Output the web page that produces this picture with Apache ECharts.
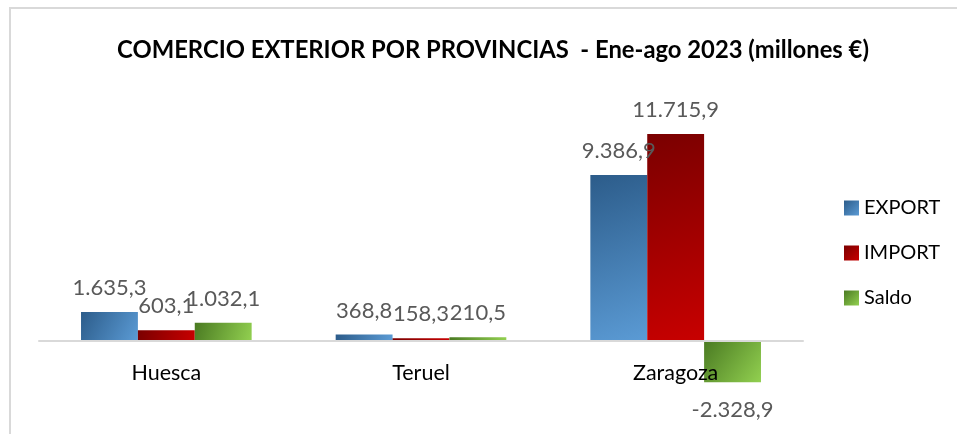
<!DOCTYPE html>
<html><head><meta charset="utf-8">
<script src="https://cdn.jsdelivr.net/npm/echarts@6/dist/echarts.min.js"></script>
<style>html,body{margin:0;padding:0;background:#fff}#c{width:957px;height:434px}</style>
</head><body><div id="c"></div>
<script>
const categories = ['Huesca', 'Teruel', 'Zaragoza'];
const exportValues = [1635.3, 368.8, 9386.9];
const importValues = [603.1, 158.3, 11715.9];
const saldoValues = [1032.1, 210.5, -2328.9];
const seriesNames = ['EXPORT', 'IMPORT', 'Saldo'];

const font = 'Lato, Calibri, Carlito, sans-serif';
function fmt(v) {
  const neg = v < 0; v = Math.abs(v);
  let s = v.toFixed(1).split('.');
  let int = s[0].replace(/\B(?=(\d{3})+(?!\d))/g, '.');
  return (neg ? '-' : '') + int + ',' + s[1];
}
function grad(c1, c2) {
  return new echarts.graphic.LinearGradient(0, 0, 1, 1, [{offset: 0, color: c1}, {offset: 1, color: c2}]);
}
const colors = [grad('#2c5c8a', '#5b9bd5'), grad('#7a0000', '#c80000'), grad('#4a7a22', '#92d050')];

function mk(name, vals, color) {
  return {
    name: name, type: 'bar', barGap: '0%', barCategoryGap: '33%',
    itemStyle: {color: color},
    data: vals.map(v => ({value: v, label: {position: v < 0 ? 'bottom' : 'top', distance: v < 0 ? 17 : 13}})),
    label: {show: true, color: '#595959', fontFamily: font, fontSize: 22,
      formatter: p => fmt(p.value)}
  };
}
const chart = echarts.init(document.getElementById('c'), null, {renderer: 'canvas'});
chart.setOption({
  animation: false,
  backgroundColor: '#fff',
  title: {text: 'COMERCIO EXTERIOR POR PROVINCIAS  - Ene-ago 2023 (millones €)', left: 488, textAlign: 'center', top: 33,
    textStyle: {fontFamily: font, fontWeight: 'bold', fontSize: 23.8, color: '#000'}},
  legend: {orient: 'vertical', left: 839, top: 193, itemWidth: 15, itemHeight: 15, itemGap: 25, icon: 'rect',
    textStyle: {fontFamily: font, fontSize: 20, color: '#000'}, data: seriesNames},
  graphic: [{type: 'rect', shape: {x: 10, y: 8, width: 960, height: 440}, style: {fill: 'none', stroke: '#d9d9d9', lineWidth: 2}, silent: true}],
  grid: {left: 39, right: 154, top: 93.6, bottom: 22.3, containLabel: false, outerBoundsMode: 'none'},
  xAxis: {type: 'category', data: categories, axisTick: {show: false}, z: 5,
    axisLine: {onZero: true, lineStyle: {color: '#d9d9d9', width: 2}},
    axisLabel: {margin: -50, fontFamily: font, fontSize: 21.5, color: '#000'}},
  yAxis: {type: 'value', min: -4000, max: 14000, show: false, splitLine: {show: false}},
  series: [mk(seriesNames[0], exportValues, colors[0]), mk(seriesNames[1], importValues, colors[1]), mk(seriesNames[2], saldoValues, colors[2])]
});
</script></body></html>
